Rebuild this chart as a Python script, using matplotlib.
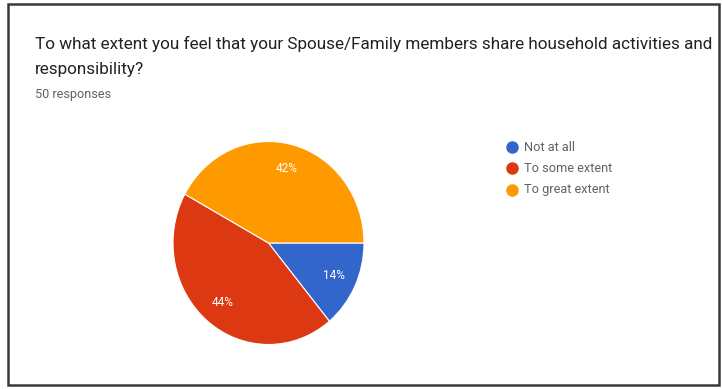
import matplotlib
matplotlib.use("Agg")
import matplotlib.pyplot as plt
from matplotlib.patches import Rectangle
from matplotlib.lines import Line2D

# Survey answers
categories = ["Not at all", "To some extent", "To great extent"]
shares = [14, 44, 42]
colors = ["#3366cc", "#dc3912", "#ff9900"]
title_lines = [
    "To what extent you feel that your Spouse/Family members share household activities and",
    "responsibility?",
]
subtitle = "50 responses"

W, H = 722, 389
fig = plt.figure(figsize=(W / 100, H / 100), dpi=100)
fig.patch.set_facecolor("white")


def px(x, y):
    return x / W, 1 - y / H


# Card frame
fig.patches.append(Rectangle(px(8, 385), 711 / W, 381 / H, transform=fig.transFigure,
                             fill=False, edgecolor="#3a3a3a", linewidth=1.8))

# Title and response count
fig.text(*px(35, 49), title_lines[0], fontsize=12.35, color="#202124",
         family="Roboto", va="baseline", ha="left")
fig.text(*px(35, 74), title_lines[1], fontsize=12.35, color="#202124",
         family="Roboto", va="baseline", ha="left")
fig.text(*px(35, 98), subtitle, fontsize=9.1, color="#5f6368",
         family="Roboto", va="baseline", ha="left")

# Pie
cx, cy, rx, ry = 268.5, 243, 95.5, 101.5
ax = fig.add_axes([(cx - rx) / W, (H - cy - ry) / H, 2 * rx / W, 2 * ry / H])
wedges, texts = ax.pie(
    shares, colors=colors, startangle=0, counterclock=False,
    labels=[f"{v}%" for v in shares], labeldistance=0.76,
    wedgeprops=dict(edgecolor="white", linewidth=0.8),
    textprops=dict(color="white", fontsize=8.5, family="Roboto"),
)
for t in texts:
    t.set_ha("center")
    t.set_va("center")
ax.set_aspect("auto")
ax.set_xlim(-1, 1)
ax.set_ylim(-1, 1)
ax.axis("off")

# Legend
for i, (name, c) in enumerate(zip(categories, colors)):
    y = 147 + i * 21.3
    fig.add_artist(Line2D([512 / W], [1 - y / H], marker="o", markersize=8,
                          color=c, linestyle="none", transform=fig.transFigure))
    fig.text(*px(524, y), name, fontsize=9.2, color="#5f6368",
             family="Roboto", va="center", ha="left")

fig.savefig("out.png", dpi=100, facecolor="white")
